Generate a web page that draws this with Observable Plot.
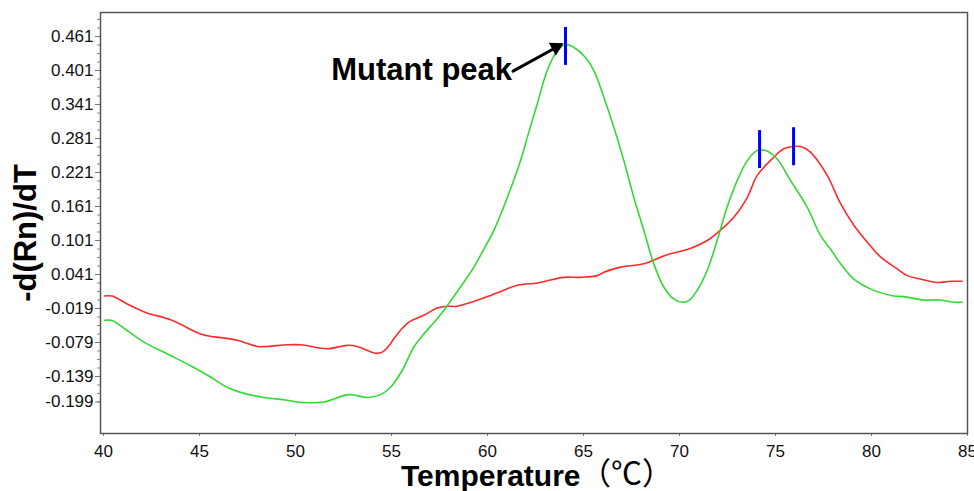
<!DOCTYPE html>
<html><head><meta charset="utf-8">
<script src="https://cdn.jsdelivr.net/npm/d3@7"></script>
<script src="https://cdn.jsdelivr.net/npm/@observablehq/plot@0.6"></script>
<style>body{margin:0;background:#fff;}</style>
</head><body><div id="chart"></div>
<script>
// Wild-type / reference curve (red)
const redTemp = [40.05,40.45,41.23,42.19,43.49,45.05,45.40,46.96,48.01,48.53,49.57,50.26,51.65,52.69,53.21,54.17,54.52,54.95,55.12,55.90,56.68,57.38,57.90,58.42,60.16,60.68,61.55,62.59,63.11,63.97,64.84,65.71,66.06,66.93,68.14,69.36,70.40,71.44,72.05,72.83,73.53,74.05,74.91,75.43,75.95,76.39,76.82,77.69,78.39,79.08,79.78,80.47,81.34,81.86,82.55,83.42,84.11,84.72];
const redValue = [0.003,0.003,-0.011,-0.026,-0.039,-0.064,-0.067,-0.075,-0.086,-0.086,-0.083,-0.083,-0.090,-0.084,-0.086,-0.098,-0.096,-0.081,-0.072,-0.043,-0.031,-0.018,-0.015,-0.015,0.004,0.011,0.022,0.026,0.030,0.036,0.036,0.039,0.045,0.054,0.060,0.076,0.085,0.101,0.117,0.142,0.177,0.216,0.248,0.263,0.267,0.266,0.257,0.216,0.166,0.128,0.098,0.072,0.051,0.039,0.033,0.027,0.029,0.029];
// Mutant curve (green)
const greenTemp = [40.05,40.45,41.23,42.19,43.49,44.53,45.57,46.44,47.14,48.35,49.39,50.43,51.47,52.78,53.73,54.43,54.95,55.56,56.16,56.68,57.38,57.90,58.59,59.29,59.81,60.33,61.03,61.72,62.07,62.59,63.11,63.63,64.06,64.49,65.10,65.54,66.06,66.58,67.10,67.62,68.14,68.66,69.18,69.70,70.14,70.48,70.92,71.44,71.96,72.48,73.01,73.53,74.05,74.22,74.57,75.09,75.78,76.65,77.34,77.86,78.39,79.08,80.12,81.16,81.68,82.72,83.59,84.29,84.72];
const greenValue = [-0.040,-0.040,-0.058,-0.080,-0.102,-0.120,-0.140,-0.158,-0.167,-0.176,-0.180,-0.185,-0.184,-0.171,-0.176,-0.171,-0.158,-0.128,-0.087,-0.064,-0.037,-0.014,0.019,0.054,0.086,0.119,0.177,0.242,0.283,0.342,0.401,0.436,0.447,0.442,0.424,0.401,0.354,0.301,0.242,0.177,0.119,0.060,0.019,-0.002,-0.008,-0.005,0.013,0.048,0.101,0.160,0.207,0.242,0.260,0.261,0.259,0.245,0.207,0.160,0.110,0.086,0.060,0.033,0.013,0.003,0.002,-0.004,-0.004,-0.008,-0.008];
// Peak markers (blue)
const peakTemp = [64.06, 74.17, 75.94];
const peakLow = [0.410, 0.228, 0.233];
const peakHigh = [0.477, 0.295, 0.300];
// Axis ticks
const xTicks = [40,45,50,55,60,65,70,75,80,85];
const yTicks = [0.461,0.401,0.341,0.281,0.221,0.161,0.101,0.041,-0.019,-0.079,-0.139,-0.184];
const yTickLabels = ["0.461","0.401","0.341","0.281","0.221","0.161","0.101","0.041","-0.019","-0.079","-0.139","-0.199"];
const yMinorTicks = d3.range(0, 46).map(i => +(-0.184 + i*0.015).toFixed(3));
// Annotation
const annotText = ["Mutant peak"];
const annotFrom = [61.33, 0.400];
const annotTo = [63.96, 0.449];

const red = redTemp.map((t,i)=>({t, v:redValue[i]}));
const green = greenTemp.map((t,i)=>({t, v:greenValue[i]}));
const peaks = peakTemp.map((t,i)=>({t, lo:peakLow[i], hi:peakHigh[i]}));
const annot = [{x1:annotFrom[0], y1:annotFrom[1], x2:annotTo[0], y2:annotTo[1], text:annotText[0]}];

const chart = Plot.plot({
  width: 974, height: 491,
  marginLeft: 100, marginRight: 7, marginTop: 12, marginBottom: 58,
  style: {fontFamily: "'Liberation Sans', Arial, sans-serif", fontSize: "17px", background: "#fff", color: "#111"},
  x: {domain: [39.84, 85]},
  y: {domain: [-0.2396, 0.5034]},
  marks: [
    Plot.axisX({ticks: xTicks, tickSize: 3, tickPadding: 8, label: null, stroke: "#777", fill: "#111", tickFormat: d => String(d)}),
    Plot.axisY({ticks: yMinorTicks, tickSize: 3, tickFormat: () => "", label: null, stroke: "#888"}),
    Plot.axisY({ticks: yTicks, tickSize: 5, tickPadding: 2, tickFormat: d => yTickLabels[yTicks.indexOf(d)], label: null, stroke: "#777", fill: "#111"}),
    Plot.frame({stroke: "#555", strokeWidth: 1.5}),
    Plot.line(red, {x: "t", y: "v", stroke: "#ff2a2a", strokeWidth: 1.6, curve: "catmull-rom"}),
    Plot.line(green, {x: "t", y: "v", stroke: "#33d933", strokeWidth: 1.6, curve: "catmull-rom"}),
    Plot.ruleX(peaks, {x: "t", y1: "lo", y2: "hi", stroke: "#0000ff", strokeWidth: 3}),
    Plot.arrow(annot, {x1: "x1", y1: "y1", x2: "x2", y2: "y2", stroke: "#000", strokeWidth: 3, headLength: 0, insetEnd: 6}),
    Plot.dot(annot, {x: "x2", y: "y2", symbol: "triangle", r: 5.5, fill: "#000", stroke: "none", rotate: 62, dx: -7.5, dy: 4}),
    Plot.text(annot, {x: "x1", y: "y1", text: "text", textAnchor: "end", dx: -1, dy: -1, fontSize: 31, fontWeight: "bold", fill: "#000", fontFamily: "'Liberation Sans', Arial, sans-serif"}),
    Plot.text(["-d(Rn)/dT"], {text: d => d, frameAnchor: "left", textAnchor: "middle", rotate: -90, dx: -74, dy: 10, fontSize: 31, fontWeight: "bold", fill: "#000"}),
    Plot.text(["Temperature"], {text: d => d, frameAnchor: "bottom", textAnchor: "end", dx: 46.5, dy: 52, fontSize: 30, fontWeight: "bold", fill: "#000"}),
    Plot.text(["（℃）"], {text: d => d, frameAnchor: "bottom", textAnchor: "start", dx: 46, dy: 50, fontSize: 31, fill: "#000", fontFamily: "'Noto Sans CJK SC', sans-serif"})
  ]
});
document.getElementById("chart").appendChild(chart);
</script>
</body></html>
